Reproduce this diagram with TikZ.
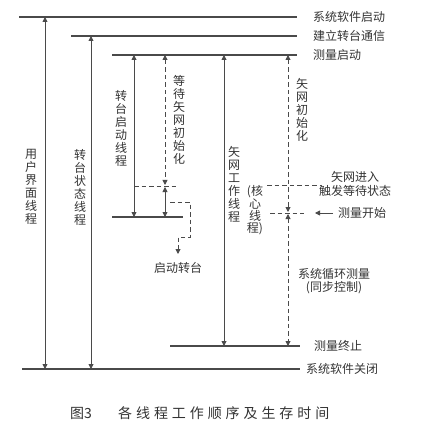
\documentclass[tikz,border=0pt]{standalone}
\usepackage{fontspec}
\setmainfont{Noto Sans CJK SC}
\usetikzlibrary{arrows.meta}
\definecolor{ln}{HTML}{4A4A4A}
\definecolor{tx}{HTML}{333333}
\tikzset{
  lin/.style={draw=ln, line width=1.1pt},
  arr/.style={draw=ln, line width=0.9pt, -{Triangle[length=5pt,width=5pt]}},
  darr/.style={draw=ln, line width=0.9pt, {Triangle[length=5pt,width=5pt]}-{Triangle[length=5pt,width=5pt]}},
  dsh/.style={draw=ln, line width=0.9pt, dash pattern=on 4.5pt off 3pt},
  lbl/.style={text=tx, font=\fontsize{12}{13.5}\selectfont, inner sep=0pt},
  vlbl/.style={text=tx, font=\fontsize{12}{13}\selectfont, inner sep=0pt, align=center},
}
\begin{document}
\begin{tikzpicture}[x=1pt,y=-1pt]
\useasboundingbox (0,0) rectangle (424,430);
% horizontal lines
\coordinate (l1a) at (19,17);  \coordinate (l1b) at (297,17);
\coordinate (l2a) at (71,36);  \coordinate (l2b) at (297,36);
\coordinate (l3a) at (112,55); \coordinate (l3b) at (297,55);
\coordinate (l4a) at (112,217);\coordinate (l4b) at (183,217);
\coordinate (l5a) at (170,346);\coordinate (l5b) at (300,346);
\coordinate (l6a) at (22,369); \coordinate (l6b) at (300,369);
\draw[lin] (l1a) -- (l1b);
\draw[lin] (l2a) -- (l2b);
\draw[lin] (l3a) -- (l3b);
\draw[lin] (l4a) -- (l4b);
\draw[lin] (l5a) -- (l5b);
\draw[lin] (l6a) -- (l6b);
\node[lbl, anchor=west] (t1) at (313,17) {系统软件启动};
\node[lbl, anchor=west] (t2) at (313,36) {建立转台通信};
\node[lbl, anchor=west] (t3) at (313,55) {测量启动};
\node[lbl, anchor=west] (t5) at (314,346) {测量终止};
\node[lbl, anchor=west] (t6) at (306,369) {系统软件关闭};
% thread arrows
\coordinate (ua) at (45,17);  \coordinate (ub) at (45,369);
\coordinate (sa) at (91,36);  \coordinate (sb) at (91,369);
\coordinate (ta) at (134,55); \coordinate (tb) at (134,217);
\coordinate (wa) at (165,55); \coordinate (wb) at (165,185);
\coordinate (wc) at (165,187);\coordinate (wd) at (165,217);
\coordinate (va) at (224,55); \coordinate (vb) at (224,346);
\coordinate (ia) at (288,55); \coordinate (ib) at (288,212);
\coordinate (ic) at (288,214);\coordinate (id) at (288,346);
\draw[darr] (ua) -- (ub);
\draw[darr] (sa) -- (sb);
\draw[darr] (ta) -- (tb);
\draw[darr] (va) -- (vb);
\draw[darr] (wc) -- (wd);
\draw[darr, dash pattern=on 4.5pt off 3pt] (wa) -- (wb);
\draw[darr, dash pattern=on 4.5pt off 3pt] (ia) -- (ib);
\draw[darr, dash pattern=on 4.5pt off 3pt] (ic) -- (id);
% dashed horizontals
\coordinate (h1a) at (134,186); \coordinate (h1b) at (176,186);
\draw[dsh] (h1a) -- (h1b);
\coordinate (h2a) at (267,185); \coordinate (h2b) at (320,185);
\draw[dsh] (h2a) -- (h2b);
\coordinate (h3a) at (270,213); \coordinate (h3b) at (304,213);
\draw[dsh] (h3a) -- (h3b);
\coordinate (m1) at (333,213); \coordinate (m2) at (315,213);
\draw[arr] (m1) -- (m2);
% start turntable path
\coordinate (p0) at (170,202);
\coordinate (p4) at (178,254);
\draw[dsh, -{Triangle[length=5pt,width=5pt]}] (p0) -- (190,202) -- (190,237) -- (178,237) -- (p4);
\node[lbl, anchor=north] (qz) at (178,262) {启动转台};
% vertical labels
\node[vlbl] (v1) at (31,187) {用\\户\\界\\面\\线\\程};
\node[vlbl] (v2) at (80,187) {转\\台\\状\\态\\线\\程};
\node[vlbl] (v3) at (121,128) {转\\台\\启\\动\\线\\程};
\node[vlbl] (v4) at (179,120) {等\\待\\矢\\网\\初\\始\\化};
\node[vlbl] (v5) at (234,184) {矢\\网\\工\\作\\线\\程};
\node[vlbl, font=\fontsize{12}{12}\selectfont] (v6) at (255,210) {(核\\心\\线\\程)};
\node[vlbl] (v7) at (302,110) {矢\\网\\初\\始\\化};
% right labels
\node[lbl, align=center] (r1) at (355,184) {矢网进入\\触发等待状态};
\node[lbl, anchor=west] (r2) at (338,213) {测量开始};
\node[lbl, align=center] (r3) at (334,281) {系统循环测量\\(同步控制)};
% caption
\node[text=tx, font=\fontsize{14}{15}\selectfont, inner sep=0pt, anchor=west] (c1) at (70,413) {图3};
\node[text=tx, font=\fontsize{14}{15}\selectfont\addfontfeature{LetterSpace=28}, inner sep=0pt, anchor=west] (c2) at (118,413) {各线程工作顺序及生存时间};
\end{tikzpicture}
\end{document}
